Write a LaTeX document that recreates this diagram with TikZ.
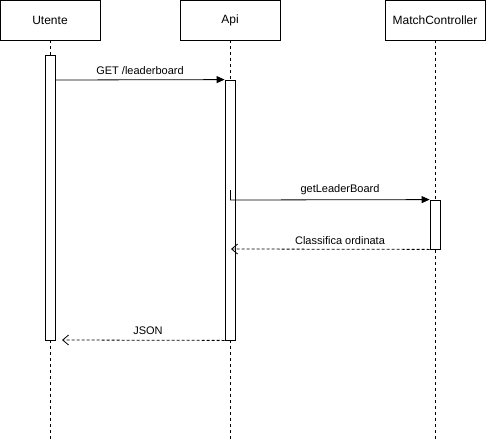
\documentclass[tikz,border=0pt]{standalone}
\usepackage{fontspec}
\setmainfont{Liberation Sans}
\usetikzlibrary{arrows.meta}
\begin{document}
\begin{tikzpicture}[x=1pt,y=-1pt,
  head/.style={draw,line width=0.8pt,fill=white,minimum width=100pt,minimum height=40pt,inner sep=0pt,font=\fontsize{12}{14}\selectfont},
  act/.style={draw,line width=0.8pt,fill=white,minimum width=10pt,inner sep=0pt},
  life/.style={line width=0.8pt,dash pattern=on 3pt off 3pt},
  msg/.style={line width=0.8pt,-{Triangle[length=8pt,width=7pt]}},
  ret/.style={line width=0.8pt,dash pattern=on 3pt off 2pt,-{Straight Barb[length=6pt,width=10pt]}},
  lbl/.style={font=\fontsize{11}{13}\selectfont,inner sep=0pt}]
\useasboundingbox (0,0) rectangle (486,441);
\node[head] (u) at (50,20) {Utente};
\node[head] (a) at (230,20) {Api};
\node[head] (m) at (435,20) {MatchController};
\coordinate (ue) at (50,441);
\coordinate (ae) at (230,441);
\coordinate (me) at (435,441);
\draw[life] (u.south) -- (ue);
\draw[life] (a.south) -- (ae);
\draw[life] (m.south) -- (me);
\node[act,minimum height=285pt] (ua) at (50,197.5) {};
\node[act,minimum height=260pt] (aa) at (230,210) {};
\node[act,minimum height=49pt] (ma) at (435,224.5) {};
\coordinate (g1) at (230,80);
\draw[msg] (ua.east |- g1) -- (aa.north west);
\node[lbl] (l1) at (140,71) {GET /leaderboard};
\coordinate (s0) at (230,190);
\coordinate (s1) at (230,200);
\draw[line width=0.8pt] (s0) -- (s1);
\draw[msg] (s1) -- (ma.north west);
\node[lbl] (l2) at (340,190) {getLeaderBoard};
\coordinate (c1) at (231,249);
\draw[ret] (ma.south west) -- (c1);
\node[lbl] (l3) at (340,241) {Classifica ordinata};
\coordinate (j1) at (62,340);
\draw[ret] (aa.south west) -- (j1);
\node[lbl] (l4) at (148,331) {JSON};
\end{tikzpicture}
\end{document}
